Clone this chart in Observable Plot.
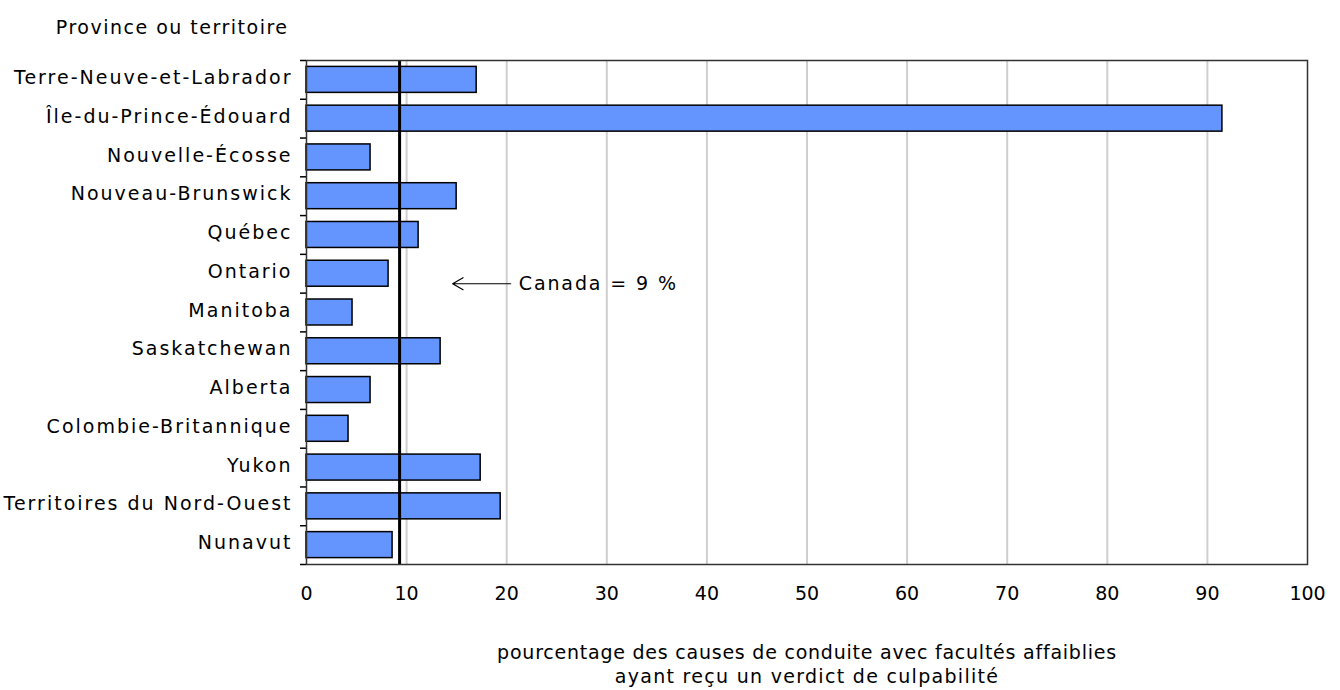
<!DOCTYPE html>
<html><head><meta charset="utf-8">
<script src="https://cdn.jsdelivr.net/npm/d3@7"></script>
<script src="https://cdn.jsdelivr.net/npm/@observablehq/plot@0.6"></script>
<style>body{margin:0;background:#fff;} svg{font-family:"DejaVu Sans",Verdana,sans-serif;}
.ylab text{letter-spacing:2.0px;}
.title text{letter-spacing:1.5px;}
.xtitle1 text{letter-spacing:0.77px;}
.xtitle2 text{letter-spacing:1.3px;}
.canada text{letter-spacing:1.9px;}
</style>
</head><body><div id="chart"></div>
<script>
const provinces = ["Terre-Neuve-et-Labrador","Île-du-Prince-Édouard","Nouvelle-Écosse","Nouveau-Brunswick","Québec","Ontario","Manitoba","Saskatchewan","Alberta","Colombie-Britannique","Yukon","Territoires du Nord-Ouest","Nunavut"];
const values = [17.0, 91.5, 6.4, 15.0, 11.2, 8.2, 4.6, 13.4, 6.4, 4.2, 17.4, 19.4, 8.6];
const canadaValue = 9.3;
const xTicks = [0,10,20,30,40,50,60,70,80,90,100];
const gridTicks = [10,20,30,40,50,60,70,80,90];
const yTitle = "Province ou territoire";
const xTitle1 = "pourcentage des causes de conduite avec facultés affaiblies";
const xTitle2 = "ayant reçu un verdict de culpabilité";
const canadaLabel = "Canada = 9 %";

const data = provinces.map((p,i)=>({p, v: values[i]}));
const W = 1340, H = 690, mT = 60, mB = 126, mL = 306, mR = 33;
const step = (H - mT - mB) / provinces.length;
const FS = 19;

const chart = Plot.plot({
  width: W, height: H,
  marginTop: mT, marginBottom: mB, marginLeft: mL, marginRight: mR,
  style: {fontSize: FS + "px", fontFamily: "'DejaVu Sans', Verdana, sans-serif", color: "#000", background: "#fff"},
  x: {domain: [0,100], ticks: xTicks},
  y: {domain: provinces, paddingInner: 0.33, paddingOuter: 0.165, round: false},
  marks: [
    Plot.ruleX(gridTicks, {stroke: "#cfcfcf", strokeWidth: 2}),
    Plot.barX(data, {x: "v", y: "p", fill: "#6495ff", stroke: "#000", strokeWidth: 1.5}),
    Plot.ruleX([canadaValue], {stroke: "#000", strokeWidth: 3}),
    Plot.frame({stroke: "#333", strokeWidth: 1.5}),
    Plot.ruleY(provinces, {y: d=>d, x1: -0.6, x2: 0, dy: -step/2, stroke: "#000", strokeWidth: 1.5}),
    Plot.ruleY([provinces[provinces.length-1]], {y: d=>d, x1: -0.6, x2: 0, dy: step/2, stroke: "#000", strokeWidth: 1.5}),
    Plot.axisY({tickSize: 0, tickPadding: 14, label: null, fontSize: FS, className: "ylab", dy: -2}),
    Plot.axisX({tickSize: 0, tickPadding: 22, label: null, fontSize: FS}),
    Plot.arrow([{p: "Ontario"}], {x1: 20.4, x2: 14.6, y1: "p", y2: "p", dy: 10, stroke: "#000", strokeWidth: 1.2, headLength: 15, bend: 0}),
    Plot.text([{p: "Ontario"}], {x: 21.2, y: "p", dy: 10, text: ()=>canadaLabel, textAnchor: "start", fontSize: FS, className: "canada"}),
    Plot.text([yTitle], {frameAnchor: "top-left", dx: -18, dy: -40, textAnchor: "end", fontSize: FS, className: "title"}),
    Plot.text([xTitle1], {frameAnchor: "bottom", dy: 94, fontSize: FS, className: "xtitle1"}),
    Plot.text([xTitle2], {frameAnchor: "bottom", dy: 118, fontSize: FS, className: "xtitle2"})
  ]
});
document.getElementById("chart").appendChild(chart);
</script></body></html>
